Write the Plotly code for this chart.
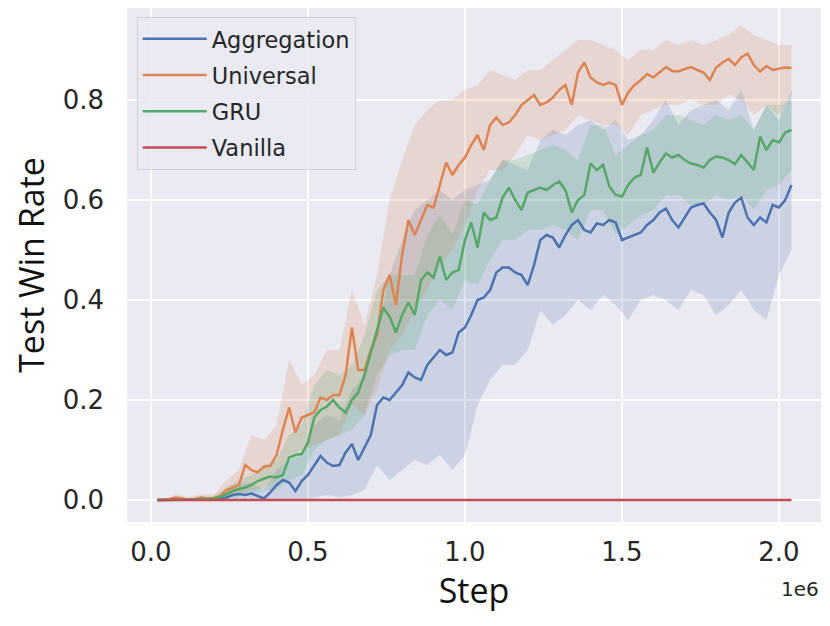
import plotly.graph_objects as go

# ---------------- data (x in units of 1e6 steps) ----------------
step_x = [round(0.02 * i, 2) for i in range(1, 103)]  # 0.02 .. 2.04

aggregation_mean = [
    0.0, 0.0, 0.0, 0.0, 0.0, 0.0, 0.0, 0.0, 0.0, 0.001,
    0.002, 0.005, 0.01, 0.012, 0.01, 0.013, 0.008, 0.003, 0.015, 0.03,
    0.04, 0.035, 0.018, 0.038, 0.05, 0.07, 0.088, 0.075, 0.068, 0.07,
    0.095, 0.112, 0.08, 0.105, 0.13, 0.19, 0.205, 0.2, 0.215, 0.23,
    0.255, 0.245, 0.24, 0.27, 0.285, 0.30, 0.29, 0.295, 0.335, 0.345,
    0.37, 0.40, 0.405, 0.42, 0.455, 0.465, 0.465, 0.455, 0.45, 0.43,
    0.47, 0.52, 0.53, 0.525, 0.505, 0.53, 0.55, 0.56, 0.54, 0.535,
    0.553, 0.55, 0.56, 0.555, 0.52, 0.525, 0.53, 0.535, 0.55, 0.56,
    0.575, 0.583, 0.56, 0.545, 0.565, 0.585, 0.59, 0.593, 0.575, 0.56,
    0.525, 0.575, 0.595, 0.605, 0.565, 0.55, 0.565, 0.555, 0.59, 0.585,
    0.60, 0.63,
]

universal_mean = [
    0.0, 0.0, 0.002, 0.005, 0.003, 0.0, 0.002, 0.005, 0.003, 0.004,
    0.008, 0.02, 0.025, 0.03, 0.07, 0.06, 0.055, 0.067, 0.068, 0.09,
    0.14, 0.185, 0.135, 0.165, 0.17, 0.175, 0.205, 0.2, 0.21, 0.21,
    0.25, 0.345, 0.26, 0.26, 0.30, 0.33, 0.42, 0.45, 0.39, 0.49,
    0.56, 0.53, 0.56, 0.59, 0.585, 0.63, 0.675, 0.65, 0.67, 0.685,
    0.71, 0.73, 0.70, 0.75, 0.765, 0.75, 0.755, 0.77, 0.79, 0.80,
    0.81, 0.79, 0.795, 0.805, 0.82, 0.83, 0.79, 0.855, 0.875, 0.845,
    0.835, 0.83, 0.835, 0.83, 0.79, 0.815, 0.83, 0.84, 0.852, 0.845,
    0.855, 0.866, 0.858, 0.857, 0.862, 0.866, 0.86, 0.855, 0.84, 0.865,
    0.875, 0.882, 0.87, 0.885, 0.893, 0.87, 0.857, 0.868, 0.86, 0.862,
    0.865, 0.864,
]

gru_mean = [
    0.0, 0.0, 0.0, 0.001, 0.0, 0.0, 0.001, 0.002, 0.002, 0.003,
    0.006, 0.012, 0.018, 0.022, 0.025, 0.03, 0.038, 0.043, 0.047, 0.045,
    0.05, 0.085, 0.09, 0.092, 0.115, 0.165, 0.18, 0.187, 0.20, 0.185,
    0.175, 0.20, 0.215, 0.25, 0.295, 0.34, 0.385, 0.367, 0.335, 0.37,
    0.395, 0.37, 0.44, 0.455, 0.445, 0.487, 0.44, 0.455, 0.46, 0.52,
    0.555, 0.505, 0.575, 0.56, 0.565, 0.605, 0.625, 0.60, 0.58, 0.615,
    0.62, 0.625, 0.62, 0.63, 0.637, 0.62, 0.575, 0.60, 0.61, 0.673,
    0.66, 0.67, 0.627, 0.61, 0.607, 0.63, 0.645, 0.65, 0.705, 0.655,
    0.675, 0.693, 0.685, 0.69, 0.68, 0.673, 0.67, 0.665, 0.68, 0.687,
    0.685, 0.68, 0.672, 0.69, 0.675, 0.66, 0.727, 0.70, 0.72, 0.715,
    0.735, 0.74,
]

vanilla_mean = [0.0] * 102

band_x = [round(0.04 * i, 2) for i in range(1, 52)]  # 0.04 .. 2.04

aggregation_lower = [
    0, 0, 0, 0, 0, 0, 0, 0, 0, 0,
    0, 0, 0.005, 0.01, 0.005, 0.01, 0.02, 0.07, 0.04, 0.06,
    0.08, 0.07, 0.09, 0.06, 0.09, 0.19, 0.24, 0.27, 0.27, 0.30,
    0.38, 0.35, 0.37, 0.40, 0.38, 0.41, 0.39, 0.36, 0.40, 0.41,
    0.40, 0.38, 0.42, 0.41, 0.37, 0.39, 0.42, 0.38, 0.36, 0.45,
    0.50,
]
aggregation_upper = [
    0, 0, 0, 0.003, 0.005, 0.015, 0.03, 0.035, 0.02, 0.06,
    0.08, 0.09, 0.15, 0.17, 0.16, 0.22, 0.25, 0.33, 0.45, 0.52,
    0.58, 0.60, 0.62, 0.60, 0.62, 0.63, 0.64, 0.68, 0.67, 0.66,
    0.72, 0.74, 0.73, 0.75, 0.76, 0.74, 0.76, 0.72, 0.73, 0.76,
    0.80, 0.75, 0.78, 0.79, 0.80, 0.78, 0.82, 0.74, 0.79, 0.76,
    0.82,
]

universal_lower = [
    0, 0, 0, 0, 0, 0.005, 0.01, 0.02, 0.025, 0.04,
    0.09, 0.10, 0.11, 0.12, 0.13, 0.19, 0.17, 0.22, 0.30, 0.33,
    0.38, 0.42, 0.47, 0.50, 0.55, 0.62, 0.66, 0.66, 0.69, 0.73,
    0.72, 0.73, 0.74, 0.77, 0.76, 0.75, 0.75, 0.73, 0.77, 0.78,
    0.79, 0.79, 0.80, 0.79, 0.79, 0.81, 0.80, 0.77, 0.79, 0.77,
    0.81,
]
universal_upper = [
    0, 0.012, 0.005, 0.012, 0.01, 0.04, 0.06, 0.13, 0.12, 0.15,
    0.28, 0.23, 0.25, 0.30, 0.30, 0.42, 0.35, 0.45, 0.60, 0.68,
    0.75, 0.78, 0.80, 0.80, 0.82, 0.83, 0.86, 0.85, 0.84, 0.86,
    0.86, 0.88, 0.90, 0.92, 0.92, 0.91, 0.90, 0.88, 0.90, 0.90,
    0.92, 0.91, 0.92, 0.91, 0.92, 0.93, 0.95, 0.93, 0.92, 0.91,
    0.91,
]

gru_lower = [
    0, 0, 0, 0, 0, 0.003, 0.008, 0.012, 0.02, 0.02,
    0.04, 0.05, 0.10, 0.12, 0.13, 0.14, 0.17, 0.25, 0.29, 0.30,
    0.30, 0.37, 0.40, 0.38, 0.44, 0.43, 0.48, 0.52, 0.52, 0.54,
    0.54, 0.55, 0.54, 0.52, 0.58, 0.58, 0.53, 0.55, 0.57, 0.58,
    0.61, 0.61, 0.59, 0.59, 0.61, 0.60, 0.61, 0.58, 0.62, 0.63,
    0.66,
]
gru_upper = [
    0, 0.003, 0.002, 0.005, 0.008, 0.025, 0.04, 0.05, 0.07, 0.08,
    0.13, 0.15, 0.23, 0.26, 0.25, 0.27, 0.33, 0.42, 0.45, 0.45,
    0.45, 0.53, 0.57, 0.53, 0.60, 0.59, 0.64, 0.68, 0.68, 0.69,
    0.70, 0.71, 0.70, 0.68, 0.75, 0.75, 0.69, 0.71, 0.73, 0.74,
    0.77, 0.77, 0.76, 0.75, 0.77, 0.76, 0.77, 0.74, 0.79, 0.79,
    0.80,
]

vanilla_lower = [0.0] * 51
vanilla_upper = [0.0] * 51

series_names = ["Aggregation", "Universal", "GRU", "Vanilla"]
x_ticks = [0.0, 0.5, 1.0, 1.5, 2.0]
x_tick_labels = ["0.0", "0.5", "1.0", "1.5", "2.0"]
y_ticks = [0.0, 0.2, 0.4, 0.6, 0.8]
y_tick_labels = ["0.0", "0.2", "0.4", "0.6", "0.8"]

# ---------------- styling ----------------
colors_rgb = [(76, 114, 176), (221, 132, 82), (85, 168, 104), (196, 78, 82)]
means = [aggregation_mean, universal_mean, gru_mean, vanilla_mean]
lowers = [aggregation_lower, universal_lower, gru_lower, vanilla_lower]
uppers = [aggregation_upper, universal_upper, gru_upper, vanilla_upper]

fig = go.Figure()

# bands first
for name, (r, g, b), lo, up in zip(series_names, colors_rgb, lowers, uppers):
    fig.add_trace(go.Scatter(
        x=band_x, y=up, mode="lines", line=dict(width=0, color=f"rgb({r},{g},{b})"),
        hoverinfo="skip", showlegend=False, legendgroup=name,
    ))
    fig.add_trace(go.Scatter(
        x=band_x, y=lo, mode="lines", line=dict(width=0, color=f"rgb({r},{g},{b})"),
        fill="tonexty", fillcolor=f"rgba({r},{g},{b},0.2)",
        hoverinfo="skip", showlegend=False, legendgroup=name,
    ))

# lines
for name, (r, g, b), m in zip(series_names, colors_rgb, means):
    fig.add_trace(go.Scatter(
        x=step_x, y=m, mode="lines", name=name, legendgroup=name,
        line=dict(color=f"rgb({r},{g},{b})", width=2.5),
    ))

tick_font = dict(family="DejaVu Sans", size=26, color="#262626")
title_font = dict(family="Open Sans", size=34, color="#111111")

fig.update_layout(
    width=822, height=618,
    margin=dict(l=119, r=9, t=0, b=104, autoexpand=False),
    paper_bgcolor="white",
    plot_bgcolor="#EAEAF2",
    showlegend=True,
    legend=dict(
        x=0.014, y=0.983, xanchor="left", yanchor="top",
        bgcolor="rgba(234,234,242,0.85)", bordercolor="#CFCFD8", borderwidth=1,
        font=dict(family="DejaVu Sans", size=22.5, color="#262626"),
        tracegroupgap=4, itemwidth=64,
    ),
    xaxis=dict(
        range=[-0.0764, 2.134], tickmode="array", tickvals=x_ticks, ticktext=x_tick_labels,
        showgrid=True, gridcolor="white", gridwidth=1.6, zeroline=False,
        showline=False, ticks="", tickfont=tick_font, ticklabelstandoff=12,
        title=dict(text="Step", font=title_font, standoff=13),
        automargin=False,
    ),
    yaxis=dict(
        range=[-0.044, 0.984], tickmode="array", tickvals=y_ticks, ticktext=y_tick_labels,
        showgrid=True, gridcolor="white", gridwidth=1.6, zeroline=False,
        showline=False, ticks="", tickfont=tick_font, ticklabelstandoff=22,
        title=dict(text="Test Win Rate", font=title_font, standoff=24),
        automargin=False,
    ),
    annotations=[dict(
        text="1e6", xref="paper", yref="paper", x=1.0, y=-0.103,
        xanchor="right", yanchor="top", showarrow=False,
        font=dict(family="DejaVu Sans", size=20, color="#262626"),
    )],
)

fig.write_html("out.html")
